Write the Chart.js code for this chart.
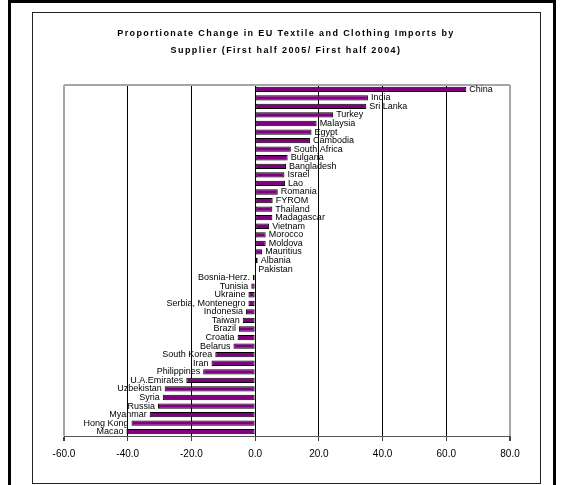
<!DOCTYPE html>
<html>
<head>
<meta charset="utf-8">
<script src="https://cdn.jsdelivr.net/npm/chart.js@4.4.0/dist/chart.umd.min.js"></script>
<style>
  body { margin: 0; background: #fff; width: 562px; height: 485px; overflow: hidden; position: relative; }
  #outer { position: absolute; left: 8px; top: 0; width: 542px; height: 500px; border: 3px solid #000; }
  #frame { position: absolute; left: 32px; top: 12px; width: 507px; height: 470px; border: 1px solid #222; }
  #chart-canvas { position: absolute; left: 0; top: 0; }
</style>
</head>
<body>
<div id="outer"></div>
<div id="frame"></div>
<canvas id="chart-canvas" width="562" height="485"></canvas>
<script>
'use strict';
// chart data
var titleLines = [
  'Proportionate Change in EU Textile and Clothing Imports by',
  'Supplier (First half 2005/ First half 2004)'
];
var suppliers = ['China', 'India', 'Sri Lanka', 'Turkey', 'Malaysia', 'Egypt', 'Cambodia',
  'South Africa', 'Bulgaria', 'Bangladesh', 'Israel', 'Lao', 'Romania', 'FYROM', 'Thailand',
  'Madagascar', 'Vietnam', 'Morocco', 'Moldova', 'Mauritius', 'Albania', 'Pakistan',
  'Bosnia-Herz.', 'Tunisia', 'Ukraine', 'Serbia, Montenegro', 'Indonesia', 'Taiwan', 'Brazil',
  'Croatia', 'Belarus', 'South Korea', 'Iran', 'Philippines', 'U.A.Emirates', 'Uzbekistan',
  'Syria', 'Russia', 'Myanmar', 'Hong Kong', 'Macao'];
var changes = [66.3, 35.4, 34.9, 24.5, 19.3, 17.7, 17.2,
  11.2, 10.2, 9.7, 9.2, 9.4, 7.1, 5.5, 5.4,
  5.4, 4.4, 3.3, 3.3, 2.2, 0.8, 0.0,
  -0.7, -1.2, -2.1, -2.1, -2.9, -3.9, -5.1,
  -5.5, -6.8, -12.5, -13.7, -16.3, -21.6, -28.4,
  -29.0, -30.5, -33.1, -38.8, -40.4];
var xTicks = [-60, -40, -20, 0, 20, 40, 60, 80];

var chartCanvas = document.getElementById('chart-canvas').getContext('2d');

// names written at the end of each bar
var barNames = {
  id: 'barNames',
  afterDatasetsDraw: function (chart) {
    var ctx = chart.ctx;
    var bars = chart.getDatasetMeta(0).data;
    ctx.save();
    ctx.font = '9px "Liberation Sans", Arial, sans-serif';
    ctx.fillStyle = '#000';
    ctx.textBaseline = 'middle';
    for (var i = 0; i < bars.length; i++) {
      if (changes[i] >= 0) {
        ctx.textAlign = 'left';
        ctx.fillText(suppliers[i], bars[i].x + 3, bars[i].y);
      } else {
        ctx.textAlign = 'right';
        ctx.fillText(suppliers[i], bars[i].x - 3, bars[i].y);
      }
    }
    ctx.restore();
  }
};

// spaced out bold title, like the original
var spacedTitle = {
  id: 'spacedTitle',
  afterDraw: function (chart) {
    var ctx = chart.ctx;
    ctx.save();
    ctx.font = 'bold 9px "Liberation Sans", Arial, sans-serif';
    ctx.letterSpacing = '1.4px';
    ctx.fillStyle = '#000';
    ctx.textAlign = 'center';
    ctx.textBaseline = 'middle';
    for (var i = 0; i < titleLines.length; i++) {
      ctx.fillText(titleLines[i], 286, 34 + i * 17);
    }
    ctx.restore();
  }
};

new Chart(chartCanvas, {
  type: 'bar',
  data: {
    labels: suppliers,
    datasets: [{
      data: changes,
      backgroundColor: '#800080',
      borderColor: '#000',
      borderWidth: 1,
      borderSkipped: false,
      categoryPercentage: 1,
      barPercentage: 0.62
    }]
  },
  options: {
    indexAxis: 'y',
    responsive: false,
    animation: false,
    layout: { padding: { left: 64, right: 52, top: 85, bottom: 18 } },
    plugins: {
      legend: { display: false },
      title: { display: false },
      tooltip: { enabled: false }
    },
    scales: {
      x: {
        min: -60,
        max: 80,
        afterBuildTicks: function (axis) {
          axis.ticks = xTicks.map(function (v) { return { value: v }; });
        },
        grid: {
          color: function (c) {
            var v = c.tick ? c.tick.value : 0;
            return (v === -60 || v === 80) ? '#a6a6a6' : '#000';
          },
          lineWidth: function (c) {
            var v = c.tick ? c.tick.value : 0;
            return (v === -60 || v === 80) ? 2 : 1;
          },
          tickColor: '#444',
          tickLength: 5
        },
        border: { color: '#555', width: 1 },
        ticks: {
          color: '#000',
          padding: 7,
          font: { family: '"Liberation Sans", Arial, sans-serif', size: 10 },
          callback: function (v) { return Number(v).toFixed(1); }
        }
      },
      y: {
        ticks: { display: false },
        grid: {
          drawTicks: false,
          color: function (c) { return c.index === 0 ? '#a6a6a6' : 'rgba(0,0,0,0)'; },
          lineWidth: 2
        },
        border: { display: false }
      }
    }
  },
  plugins: [barNames, spacedTitle]
});
</script>
</body>
</html>
